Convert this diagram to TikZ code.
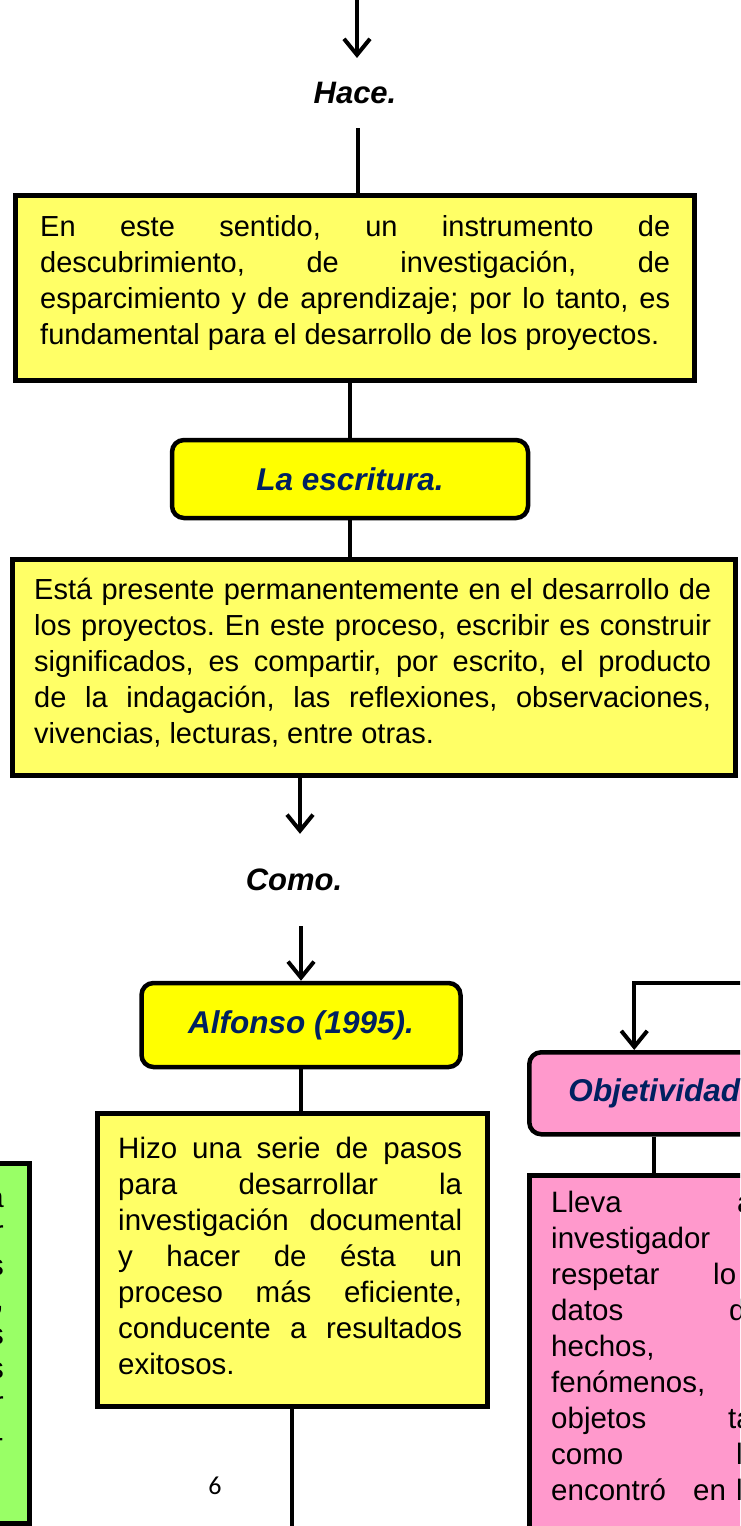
\documentclass[tikz,border=0pt]{standalone}
\usepackage{fontspec}
\setmainfont{Liberation Sans}
\newfontfamily\calib{Carlito}
\usetikzlibrary{arrows.meta}
\definecolor{lyellow}{RGB}{255,255,102}
\definecolor{byellow}{RGB}{255,255,0}
\definecolor{pinkf}{RGB}{255,153,204}
\definecolor{greenf}{RGB}{153,255,102}
\definecolor{navy}{RGB}{0,32,96}
\newlength{\jw}
\newcommand{\jl}[1]{\leavevmode\hbox to \jw{\spaceskip=0.278em plus 1fil\relax #1}}
\newcommand{\resetsp}{\spaceskip=0pt\xspaceskip=0pt\frenchspacing\relax}
\begin{document}
\begin{tikzpicture}[x=1pt,y=-1pt,
  conn/.style={line width=4pt, draw=black},
  arr/.style={conn, -{Straight Barb[length=16pt,width=26pt]}},
  sqbox/.style={draw=black, line width=4.5pt, inner sep=0pt, anchor=north west},
  ttlbox/.style={draw=black, line width=4.5pt, rounded corners=12pt, inner sep=0pt,
    font=\fontsize{31.5}{36}\selectfont\bfseries\itshape, text=navy},
  txt/.style={inner sep=0pt, anchor=north west, align=left, font=\fontsize{29}{36}\selectfont},
  txtb/.style={txt, font=\fontsize{29.5}{36}\selectfont},
  frag/.style={inner sep=0pt, font=\fontsize{29.5}{36}\selectfont},
  lbl/.style={font=\fontsize{31}{36}\selectfont\bfseries\itshape, inner xsep=0pt}
]
\useasboundingbox (0,0) rectangle (740,1526);
\clip (0,0) rectangle (740,1526);

% ---- top
\coordinate (c0) at (357,0);
\node[lbl, inner ysep=24pt] (hace) at (355,93) {Hace.};
\draw[arr] (c0) -- (c0 |- hace.north);

\node[sqbox, fill=lyellow, minimum width=679pt, minimum height=185pt] (b1) at (13,193) {};
\draw[conn] (hace.south -| 358,0) -- (b1.north -| 358,0);
\node[txt, text width=630pt] (t1) at (40,215) {\resetsp\setlength{\jw}{630pt}%
\jl{En este sentido, un instrumento de}\\
\jl{descubrimiento, de investigación, de}\\
\jl{esparcimiento y de aprendizaje; por lo tanto, es}\\
fundamental para el desarrollo de los proyectos.};

\node[ttlbox, fill=byellow, minimum width=356pt, minimum height=78pt] (esc) at (350,479) {La escritura.};
\draw[conn] (b1.south -| esc.north) -- (esc.north);

\node[sqbox, fill=lyellow, minimum width=723pt, minimum height=216pt] (b2) at (10,557) {};
\draw[conn] (esc.south) -- (b2.north -| esc.south);
\node[txt, text width=677pt] (t2) at (34,578) {\resetsp\setlength{\jw}{677pt}%
\jl{Está presente permanentemente en el desarrollo de}\\
\jl{los proyectos. En este proceso, escribir es construir}\\
\jl{significados, es compartir, por escrito, el producto}\\
\jl{de la indagación, las reflexiones, observaciones,}\\
vivencias, lecturas, entre otras.};

% ---- Como
\node[lbl, inner ysep=35pt] (como) at (294,880) {Como.};
\draw[arr] (b2.south -| 300,0) -- (como.north -| 300,0);

\node[ttlbox, fill=byellow, minimum width=319pt, minimum height=84pt] (alf) at (301,1025) {Alfonso (1995).};
\draw[arr] (como.south -| alf.north) -- (alf.north);

\node[sqbox, fill=lyellow, minimum width=390pt, minimum height=293pt] (b4) at (95,1111) {};
\draw[conn] (alf.south) -- (b4.north -| alf.south);
\node[txtb, text width=344pt] (t4) at (118,1137) {\resetsp\setlength{\jw}{344pt}%
\jl{Hizo una serie de pasos}\\
\jl{para desarrollar la}\\
\jl{investigación documental}\\
\jl{y hacer de ésta un}\\
\jl{proceso más eficiente,}\\
\jl{conducente a resultados}\\
exitosos.};

\coordinate (bend) at (292,1530);
\draw[conn] (b4.south -| bend) -- (bend);

\node[inner sep=0pt, font=\calib\fontsize{26}{30}\selectfont] (pg) at (215,1486) {6};

% ---- green box (left, cut)
\node[sqbox, fill=greenf, minimum width=60pt, minimum height=360pt] (gb) at (-33,1161) {};
\foreach \t [count=\i from 0] in {a,r,s,{,},s,s,r,-}{
  \node[frag, anchor=base east] (g\i) at (4,1207+34.3*\i) {\t};
}

% ---- pink (right, cut)
\coordinate (rin) at (745,983);
\node[ttlbox, fill=pinkf, minimum width=250pt, minimum height=82pt, anchor=north west] (obj) at (527,1050) {Objetividad};
\draw[arr] (rin) -| ([xshift=-20pt]obj.north);

\node[sqbox, fill=pinkf, minimum width=250pt, minimum height=400pt] (p2) at (527,1173) {};
\draw[conn] (obj.south) -- (p2.north -| obj.south);

\node[frag, anchor=base west] (pl1) at (551,1212) {Lleva};
\node[frag, anchor=base west] (pr1) at (737,1212) {a};
\node[frag, anchor=base west] (pl2) at (551,1248) {investigador};
\node[frag, anchor=base west] (pl3) at (551,1284) {respetar};
\node[frag, anchor=base west] (pr3) at (713,1284) {lo};
\node[frag, anchor=base west] (pl4) at (551,1320) {datos};
\node[frag, anchor=base west] (pr4) at (729,1320) {d};
\node[frag, anchor=base west] (pl5) at (551,1356) {hechos,};
\node[frag, anchor=base west] (pl6) at (551,1392) {fenómenos,};
\node[frag, anchor=base west] (pl7) at (551,1428) {objetos};
\node[frag, anchor=base west] (pr7) at (728,1428) {ta};
\node[frag, anchor=base west] (pl8) at (551,1464) {como};
\node[frag, anchor=base west] (pr8) at (736,1464) {l};
\node[frag, anchor=base west] (pl9) at (551,1500) {encontró};
\node[frag, anchor=base west] (pm9) at (693,1500) {en};
\node[frag, anchor=base west] (pr9) at (736,1500) {l};
\end{tikzpicture}
\end{document}
